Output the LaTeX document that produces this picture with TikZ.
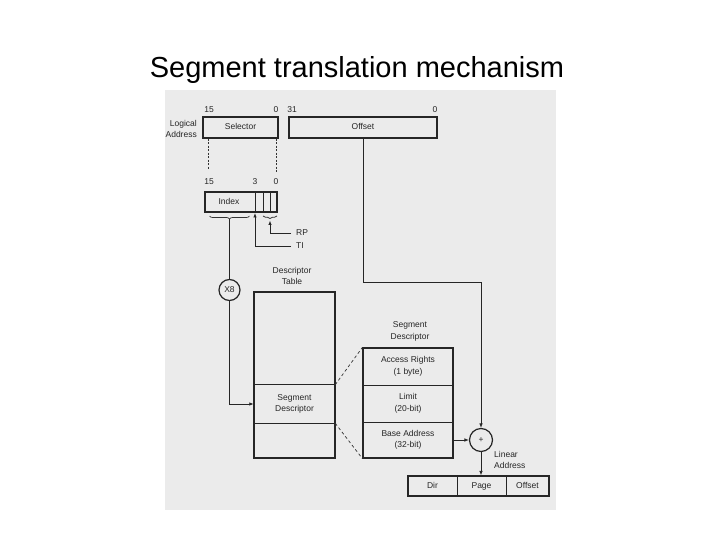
\documentclass[tikz,border=0pt]{standalone}
\usepackage{fontspec}
\setmainfont{Liberation Sans}
\usetikzlibrary{arrows.meta,decorations.pathreplacing,calc}
\begin{document}
\begin{tikzpicture}[x=1pt,y=-1pt,
  box/.style={draw=black!85, line width=1.2pt, inner sep=0pt, font=\fontsize{8.5}{11}\selectfont, text=black!85},
  cell/.style={inner sep=0pt, font=\fontsize{8.5}{11.5}\selectfont, align=center, text=black!85},
  onel/.style={text height=6.2pt, text depth=1.8pt},
  lbl/.style={inner sep=0pt, font=\fontsize{8.5}{11.5}\selectfont, align=center, text=black!85},
  thinline/.style={draw=black!85, line width=0.8pt},
  arr/.style={thinline, -{Latex[length=4.5pt,width=3.5pt]}},
  dashline/.style={draw=black!80, line width=0.7pt, dash pattern=on 3pt off 2.5pt},
  brc/.style={draw=black!80, line width=0.7pt, decorate},
  circ/.style={circle, draw=black!85, line width=1.2pt, inner sep=0pt, font=\fontsize{8.5}{10}\selectfont, text=black!85}
]
\useasboundingbox (0,0) rectangle (720,540);
\fill[white] (0,0) rectangle (720,540);
\fill[black!8] (165,90) rectangle (556,510);

% title
\node[anchor=base, inner sep=0pt, font=\fontsize{29}{33}\selectfont] (title) at (357,78) {Segment translation mechanism};

% logical address
\node[lbl, anchor=east, align=right] (logaddr) at (197,129) {Logical\\Address};
\node[box, onel, minimum width=75pt, minimum height=21pt] (sel) at (240.5,127.5) {Selector};
\node[box, onel, minimum width=148pt, minimum height=21pt] (off) at (363,127.5) {Offset};
\node[lbl] (s15) at (209,110) {15};
\node[lbl] (s0) at (276,110) {0};
\node[lbl] (o31) at (292,110) {31};
\node[lbl] (o0) at (435,110) {0};

% dashed guides
\coordinate (gl) at (208,170);
\coordinate (gr) at (276,172);
\draw[dashline, dash pattern=on 2pt off 1.5pt, line width=0.5pt] (sel.south west -| gl) -- (gl);
\draw[dashline, dash pattern=on 2pt off 1.5pt, line width=0.5pt] (sel.south west -| gr) -- (gr);

% index
\node[lbl] (i15) at (209,182) {15};
\node[lbl] (i3) at (255,182) {3};
\node[lbl] (i0) at (276,182) {0};
\node[box, minimum width=72pt, minimum height=20pt] (idx) at (241,202) {};
\node[cell, onel] (idxlbl) at (229,202) {Index};
\draw[thinline, line width=0.9pt] (255,192) -- (255,212);
\draw[thinline, line width=0.9pt] (263,192) -- (263,212);
\draw[thinline, line width=0.9pt] (270,192) -- (270,212);

% braces
\draw[brc, decoration={brace, mirror, amplitude=3pt}] (209.5,216) -- (249.5,216);
\coordinate (btip) at (229.5,219.5);
\draw[brc, decoration={brace, mirror, amplitude=2.5pt}] (263,216) -- (277,216);

% RP / TI
\node[lbl, anchor=west] (rp) at (296,233) {RP};
\node[lbl, anchor=west] (ti) at (296,246) {TI};
\draw[arr] ([xshift=-5pt]rp.west) -- (270,233) -- (270,220.5);
\draw[arr] ([xshift=-5pt]ti.west) -- (255,246) -- (255,213);

% X8
\node[circ, minimum size=21pt] (x8) at (229.5,290) {X8};
\draw[thinline] (btip) -- (x8.north);

% descriptor table
\node[lbl] (dtlbl) at (292,276) {Descriptor\\Table};
\node[box, minimum width=81pt, minimum height=166pt] (dt) at (294.5,375) {};
\node[cell, minimum width=81pt, minimum height=38pt] (sdrow) at (294.5,404) {Segment\\Descriptor};
\draw[thinline, line width=0.9pt] (sdrow.north west) -- (sdrow.north east);
\draw[thinline, line width=0.9pt] (sdrow.south west) -- (sdrow.south east);
\draw[arr] (x8.south) |- (sdrow.west);

% expanded segment descriptor
\node[lbl] (sdlbl) at (410,331.5) {Segment\\Descriptor};
\node[box, minimum width=90pt, minimum height=110pt] (sdx) at (408,403) {};
\node[cell, minimum width=90pt, minimum height=37pt] (ar) at (408,366.5) {Access Rights\\(1 byte)};
\node[cell, minimum width=90pt, minimum height=37pt] (lim) at (408,403.5) {Limit\\(20-bit)};
\node[cell, minimum width=90pt, minimum height=36pt] (base) at (408,440) {Base Address\\(32-bit)};
\draw[thinline, line width=0.9pt] (ar.south west) -- (ar.south east);
\draw[thinline, line width=0.9pt] (lim.south west) -- (lim.south east);
\draw[dashline] (sdrow.north east) -- (sdx.north west);
\draw[dashline] (sdrow.south east) -- (sdx.south west);

% adder
\node[circ, minimum size=23pt] (plus) at (481,440) {+};
\coordinate (bend) at (363,282);
\draw[arr] (off.south) -- (bend) -| (plus.north);
\draw[arr] (base.east) -- (plus.west);

% linear address
\node[lbl, anchor=west, align=left] (linlbl) at (494,460) {Linear\\Address};
\node[box, minimum width=141pt, minimum height=20pt] (lin) at (478.5,486) {};
\node[cell, onel, minimum width=49pt, minimum height=20pt] (dir) at (432.5,486) {Dir};
\node[cell, onel, minimum width=49pt, minimum height=20pt] (page) at (481.5,486) {Page};
\node[cell, onel, minimum width=43pt, minimum height=20pt] (loff) at (527.5,486) {Offset};
\draw[thinline, line width=0.9pt] (dir.north east) -- (dir.south east);
\draw[thinline, line width=0.9pt] (page.north east) -- (page.south east);
\draw[arr] (plus.south) -- (plus.south |- lin.north);
\end{tikzpicture}
\end{document}
